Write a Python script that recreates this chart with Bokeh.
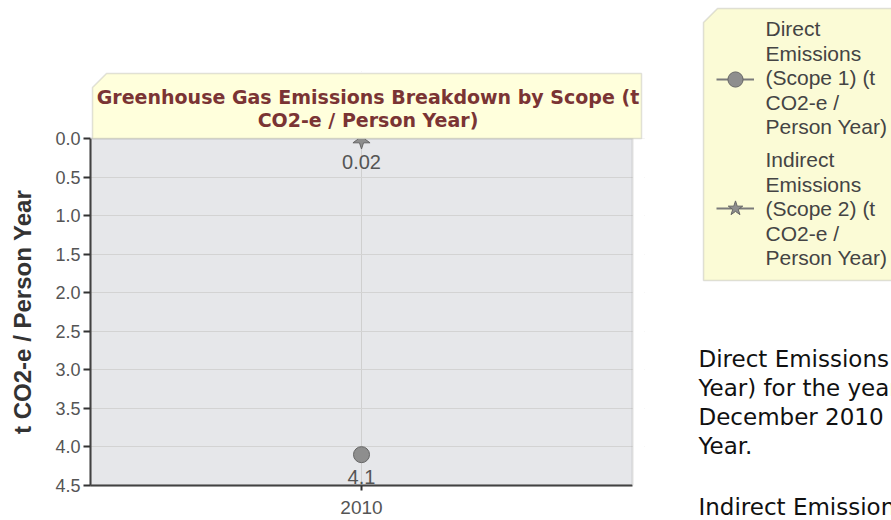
import math
from bokeh.plotting import figure
from bokeh.layouts import row
from bokeh.models import (Range1d, FixedTicker, NumeralTickFormatter, BasicTickFormatter,
                          Label, PolyAnnotation, BoxAnnotation, Legend, LegendItem,
                          ColumnDataSource)
from bokeh.core.properties import value
from bokeh.embed import file_html
from bokeh.resources import INLINE

# ---- data ----
years = [2010]
direct_scope1 = [4.1]
indirect_scope2 = [0.02]
direct_labels = ["4.1"]
indirect_labels = ["0.02"]
y_ticks = [0.0, 0.5, 1.0, 1.5, 2.0, 2.5, 3.0, 3.5, 4.0, 4.5]

y_title = "t CO2-e / Person Year"
title_lines = ["Greenhouse Gas Emissions Breakdown by Scope (t", "CO2-e / Person Year)"]
legend1_lines = ["Direct", "Emissions", "(Scope 1) (t", "CO2-e /", "Person Year)"]
legend2_lines = ["Indirect", "Emissions", "(Scope 2) (t", "CO2-e /", "Person Year)"]
para_lines = ["Direct Emissions (Scope 1) (t CO2-e / Person", "Year) for the year ending 31",
              "December 2010 was 4.1 t CO2-e / Person", "Year.", "",
              "Indirect Emissions (Scope 2) (t CO2-e / Person"]

SERIES_LINE = "#7a7a7a"
SERIES_FILL = "#8e8e8e"
SERIES_EDGE = "#666666"
PLOT_BG = "#e6e7ea"

# ---- layout (page px) ----
PLOT_L, PLOT_R, PLOT_T, PLOT_B = 90, 632, 138, 485     # visible plot area
FRAME_R, FRAME_T = 644, 71                              # frame extended for the title box
x_lo, x_hi = years[0] - 0.5, years[0] + 0.5
y_lo, y_hi = y_ticks[0], y_ticks[-1]
px_per_x = (PLOT_R - PLOT_L) / (x_hi - x_lo)
px_per_y = (PLOT_B - PLOT_T) / (y_hi - y_lo)
x_end = x_hi + (FRAME_R - PLOT_R) / px_per_x
y_top = y_lo - (PLOT_T - FRAME_T) / px_per_y

LEFT_W = 690
p = figure(width=LEFT_W, height=520, output_backend="svg", toolbar_location=None,
           x_range=Range1d(x_lo, x_end), y_range=Range1d(y_hi, y_top),
           min_border_left=PLOT_L, min_border_right=LEFT_W - FRAME_R,
           min_border_top=FRAME_T, min_border_bottom=520 - PLOT_B)
p.frame_align = False
p.background_fill_color = "white"
p.border_fill_color = "white"
p.outline_line_color = None

# plot-area fill below the grid
p.add_layout(BoxAnnotation(left=x_lo, right=x_hi, top=y_lo, bottom=y_hi,
                           fill_color=PLOT_BG, fill_alpha=1, line_alpha=0, level="image"))

p.ygrid.grid_line_color = "#d3d3d3"
p.xgrid.grid_line_color = "#cfcfcf"

p.xaxis.ticker = FixedTicker(ticks=years, minor_ticks=[])
p.xaxis.formatter = BasicTickFormatter(use_scientific=False)
p.xaxis.bounds = (x_lo, x_hi)
p.yaxis.ticker = FixedTicker(ticks=y_ticks, minor_ticks=[])
p.yaxis.formatter = NumeralTickFormatter(format="0.0")
p.yaxis.bounds = (y_lo, y_hi)
for ax in (p.xaxis[0], p.yaxis[0]):
    ax.axis_line_color = "#333333"
    ax.axis_line_width = 2
    ax.major_tick_line_color = "#333333"
    ax.major_tick_line_width = 2
    ax.major_tick_in = 0
    ax.minor_tick_line_color = None
    ax.major_label_text_font = "Liberation Sans"
    ax.major_label_text_color = "#555555"
p.yaxis.major_label_text_font_size = "18px"
p.xaxis.major_label_text_font_size = "19px"
p.yaxis.major_tick_out = 7
p.yaxis.major_label_standoff = 3
p.xaxis.major_tick_out = 5
p.xaxis.major_label_standoff = 10
# the frame is taller than the plot area (it also holds the title box), so the
# axis title is padded with no-break spaces to sit centred on the plot area
p.yaxis.axis_label = y_title + "\u00a0" * 10
p.yaxis.axis_label_text_font = "Liberation Sans"
p.yaxis.axis_label_text_font_style = "bold"
p.yaxis.axis_label_text_font_size = "24px"
p.yaxis.axis_label_text_color = "#333333"
p.yaxis.axis_label_standoff = 16

# ---- series ----
src1 = ColumnDataSource(dict(x=years, y=direct_scope1, lab=direct_labels))
src2 = ColumnDataSource(dict(x=years, y=indirect_scope2, lab=indirect_labels))

p.line("x", "y", source=src1, line_color=SERIES_LINE, line_width=2)
p.scatter("x", "y", source=src1, marker="circle", size=16,
          fill_color=SERIES_FILL, line_color=SERIES_EDGE, line_width=1)
p.line("x", "y", source=src2, line_color=SERIES_LINE, line_width=2)
p.scatter("x", "y", source=src2, marker="star", size=18, angle=math.pi,
          fill_color=SERIES_FILL, line_color=SERIES_EDGE, line_width=1)

for s in (src1, src2):
    p.text("x", "y", text="lab", source=s, y_offset=22, text_align="center",
           text_baseline="middle", text_font=value("Liberation Sans"),
           text_font_size="20px", text_color="#555555")

# white outside the plot area (top strip and right strip of the extended frame)
p.add_layout(BoxAnnotation(bottom=y_lo, fill_color="white", fill_alpha=1, line_alpha=0))
p.add_layout(BoxAnnotation(left=x_hi, top=y_lo, fill_color="white", fill_alpha=1, line_alpha=0))
# plot area border
p.add_layout(BoxAnnotation(left=x_lo, right=x_hi, top=y_lo, bottom=y_hi, fill_alpha=0,
                           line_color="#9a9a9a", line_width=2))

def sx(px):
    return px - PLOT_L
def sy(py):
    return PLOT_B - py

# title box (cut top-left corner)
p.add_layout(PolyAnnotation(xs=[sx(92), sx(106), sx(641), sx(641), sx(92)],
                            ys=[sy(87), sy(73), sy(73), sy(138), sy(138)],
                            xs_units="screen", ys_units="screen",
                            fill_color="#ffffdc", fill_alpha=1,
                            line_color="#9a9a9a", line_width=1.5))
for i, t in enumerate(title_lines):
    p.add_layout(Label(x=sx(367.5), y=sy(96 + 23 * i), x_units="screen", y_units="screen",
                       text=t, text_align="center", text_baseline="middle",
                       text_font="DejaVu Sans", text_font_style="bold",
                       text_font_size="19px", text_color="#7a3434"))

# ================= right side: legend + text (page x 690..891) =================
RIGHT_W = 891 - LEFT_W
q = figure(width=RIGHT_W, height=520, output_backend="svg", toolbar_location=None,
           title=None, x_range=Range1d(0, 1), y_range=Range1d(0, 1),
           x_axis_location=None, y_axis_location=None,
           min_border_left=0, min_border_right=0, min_border_top=0, min_border_bottom=0)
q.frame_align = False
q.outline_line_color = None
q.grid.visible = False
q.background_fill_color = "white"
q.border_fill_color = "white"

def bx(px):
    return px - LEFT_W
def by(py):
    return 520 - py

q.add_layout(PolyAnnotation(xs=[bx(703), bx(717), bx(900), bx(900), bx(703)],
                            ys=[by(22), by(8), by(8), by(280), by(280)],
                            xs_units="screen", ys_units="screen",
                            fill_color="#fbfbd6", fill_alpha=1,
                            line_color="#9a9a9a", line_width=1.5))

# legend keys: same series data and styling (points fall outside this panel's ranges)
k1l = q.line("x", "y", source=src1, line_color=SERIES_LINE, line_width=2)
k1m = q.scatter("x", "y", source=src1, marker="circle", size=16,
                fill_color=SERIES_FILL, line_color=SERIES_EDGE, line_width=1)
k2l = q.line("x", "y", source=src2, line_color=SERIES_LINE, line_width=2)
k2m = q.scatter("x", "y", source=src2, marker="star", size=18, angle=math.pi,
                fill_color=SERIES_FILL, line_color=SERIES_EDGE, line_width=1)

GW, GH = 38, 38
for (rends, cx, cy) in (([k1l, k1m], 735, 79), ([k2l, k2m], 735, 208)):
    lg = Legend(items=[LegendItem(label=" ", renderers=rends)],
                location=(bx(cx - GW / 2), by(cy + GH / 2)),
                background_fill_alpha=0, border_line_alpha=0, padding=0, margin=0,
                spacing=0, glyph_width=GW, glyph_height=GH, label_standoff=0,
                label_text_font_size="10px")
    q.add_layout(lg)

for lines, y0 in ((legend1_lines, 28), (legend2_lines, 159)):
    for i, t in enumerate(lines):
        q.add_layout(Label(x=bx(765), y=by(y0 + 24.5 * i), x_units="screen", y_units="screen",
                           text=t, text_align="left", text_baseline="middle",
                           text_font="Liberation Sans", text_font_size="21px",
                           text_color="#444444"))

for i, t in enumerate(para_lines):
    if not t:
        continue
    q.add_layout(Label(x=bx(698), y=by(358 + 29 * i + (3 if i >= 5 else 0)),
                       x_units="screen", y_units="screen",
                       text=t, text_align="left", text_baseline="middle",
                       text_font="DejaVu Sans", text_font_size="23px",
                       text_color="#111111"))

layout = row(p, q)
layout.spacing = 0
open("out.html", "w").write(file_html(layout, INLINE))
